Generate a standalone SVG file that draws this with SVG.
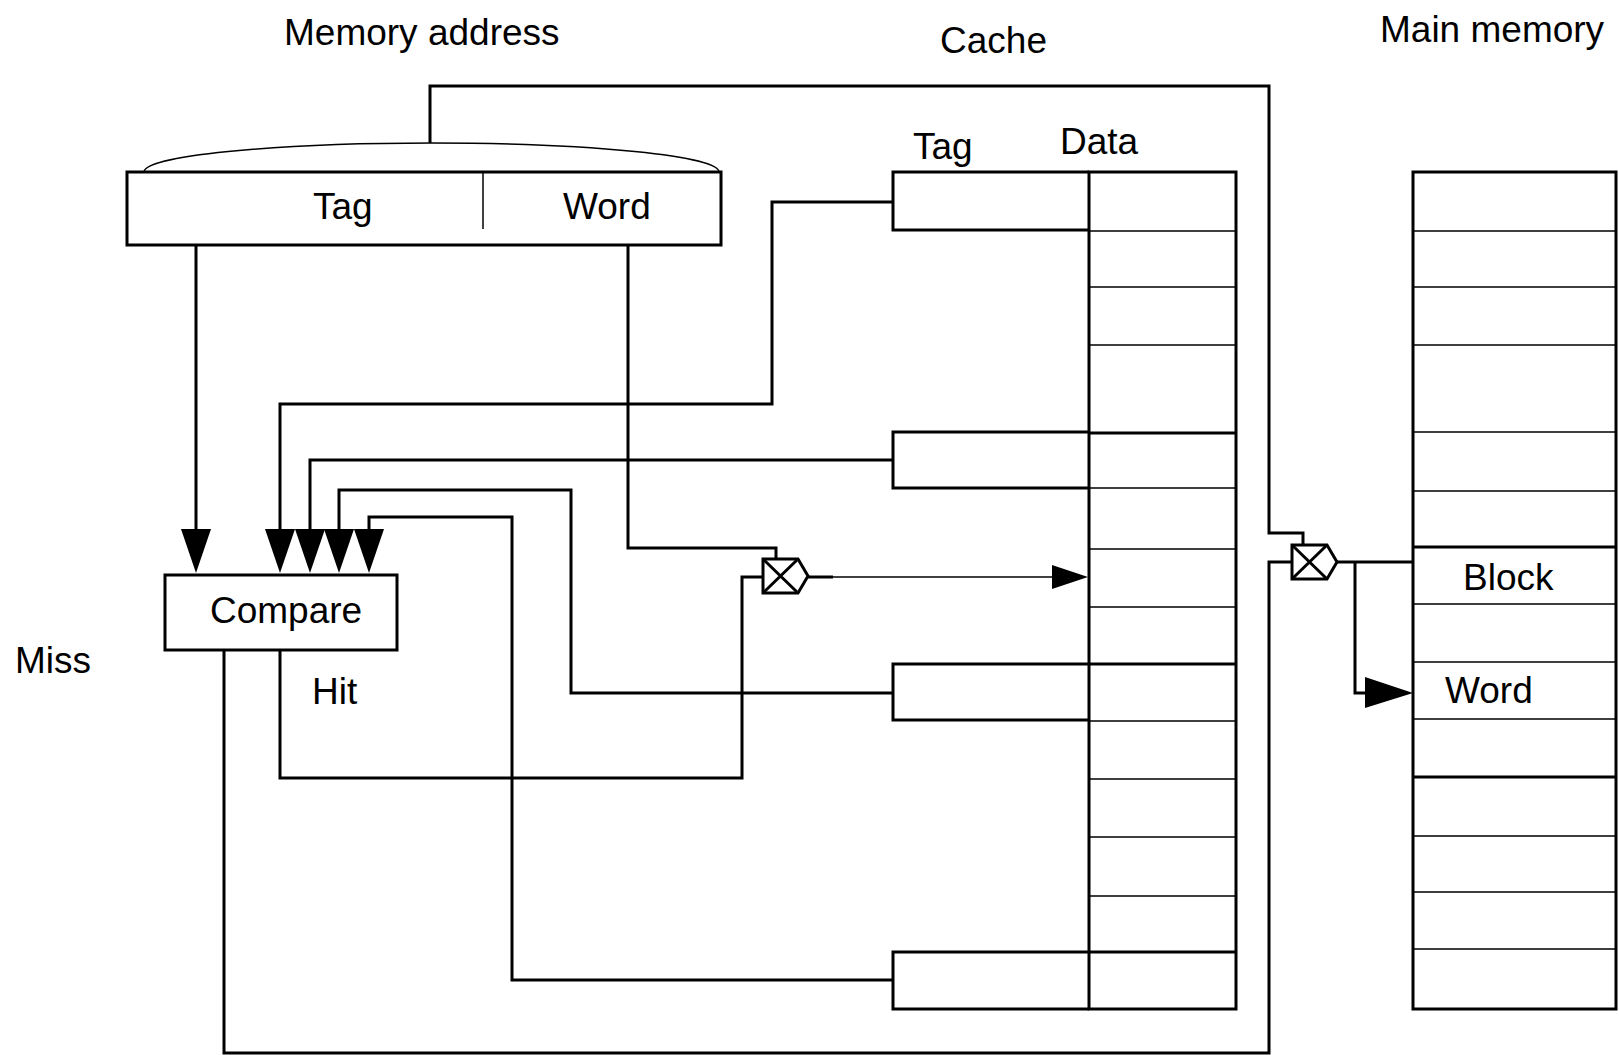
<svg xmlns="http://www.w3.org/2000/svg" width="1619" height="1055" viewBox="0 0 1619 1055">
<style>
.t{font-family:"Liberation Sans",Arial,sans-serif;font-size:37px;fill:#000}
.b{fill:none;stroke:#000;stroke-width:3}
.n{fill:none;stroke:#000;stroke-width:1.5}
.w{fill:#fff;stroke:#000;stroke-width:3}
.h{fill:#000;stroke:none}
</style>
<rect width="1619" height="1055" fill="#fff"/>

<g id="titles">
<text class="t" x="284" y="45">Memory address</text>
<text class="t" x="940" y="53">Cache</text>
<text class="t" x="1380" y="42">Main memory</text>
</g>

<g id="connectors">
<path class="b" d="M430,143 V86 H1269 V533 H1303 V545"/>
<path class="b" d="M224,650 V1053 H1269 V562 H1292"/>
<path class="b" d="M280,650 V778 H742 V577 H763"/>
<path class="b" d="M196,245 V530"/>
<path class="b" d="M628,245 V548 H776 V559"/>
<path class="b" d="M893,202 H772 V404 H280 V530"/>
<path class="b" d="M893,460 H310 V530"/>
<path class="b" d="M893,693 H571 V490 H339 V530"/>
<path class="b" d="M893,980 H512 V517 H369 V530"/>
<path class="n" d="M808,577 H1060"/>
<path class="b" d="M808,577 H833"/>
<path class="b" d="M1336,562 H1413"/>
<path class="b" d="M1355,562 V693 H1368"/>
<polygon class="h" points="181,529 211,529 196,573"/>
<polygon class="h" points="265,529 295,529 280,573"/>
<polygon class="h" points="295,529 325,529 310,573"/>
<polygon class="h" points="324,529 354,529 339,573"/>
<polygon class="h" points="354,529 384,529 369,573"/>
<polygon class="h" points="1052,565 1052,589 1088,577"/>
<polygon class="h" points="1365,677 1365,708 1413,693"/>
</g>

<g id="address">
<path class="n" d="M144,172 A287.5,29 0 0 1 719,172"/>
<rect class="w" x="127" y="172" width="594" height="73"/>
<path class="n" d="M483,172 V229"/>
<text class="t" x="313" y="219">Tag</text>
<text class="t" x="563" y="219">Word</text>
</g>

<g id="cache">
<text class="t" x="913" y="159">Tag</text>
<text class="t" x="1060" y="154">Data</text>
<rect class="w" x="1089" y="172" width="147" height="837"/>
<path class="n" d="M1089,231 H1236 M1089,287 H1236 M1089,345 H1236 M1089,488 H1236 M1089,549 H1236 M1089,607 H1236 M1089,721 H1236 M1089,779 H1236 M1089,837 H1236 M1089,896 H1236"/>
<path class="b" d="M1089,433 H1236 M1089,664 H1236 M1089,952 H1236"/>
<path class="b" d="M1089,172 H893 V230 H1089"/>
<path class="b" d="M1089,432 H893 V488 H1089"/>
<path class="b" d="M1089,664 H893 V720 H1089"/>
<path class="b" d="M1089,952 H893 V1009 H1089"/>
</g>

<g id="compare">
<rect class="w" x="165" y="575" width="232" height="75"/>
<text class="t" x="210" y="623">Compare</text>
<text class="t" x="15" y="673">Miss</text>
<text class="t" x="312" y="704">Hit</text>
</g>

<g id="mux1">
<path class="w" d="M763,559 H798 L808,576 L798,593 H763 Z"/>
<path class="b" d="M764,560 L797,592 M797,560 L764,592"/>
</g>

<g id="mux2">
<path class="w" d="M1292,545 H1327 L1337,562 L1327,579 H1292 Z"/>
<path class="b" d="M1293,546 L1326,578 M1326,546 L1293,578"/>
</g>

<g id="mainmemory">
<rect class="w" x="1413" y="172" width="203" height="837"/>
<path class="n" d="M1413,231 H1616 M1413,287 H1616 M1413,345 H1616 M1413,432 H1616 M1413,491 H1616 M1413,604 H1616 M1413,662 H1616 M1413,719 H1616 M1413,836 H1616 M1413,892 H1616 M1413,949 H1616"/>
<path class="b" d="M1413,547 H1616 M1413,777 H1616"/>
<text class="t" x="1463" y="590">Block</text>
<text class="t" x="1445" y="703">Word</text>
</g>
</svg>
